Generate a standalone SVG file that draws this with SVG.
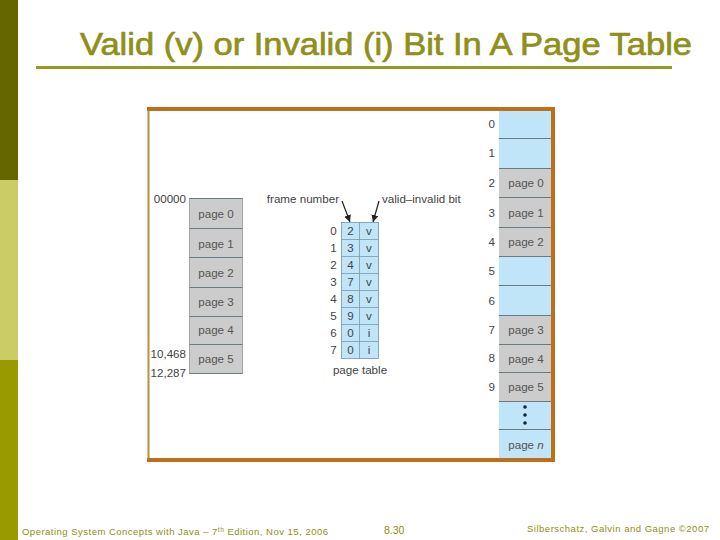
<svg xmlns="http://www.w3.org/2000/svg" width="720" height="540" viewBox="0 0 720 540">
<style>
text{font-family:"Liberation Sans",Arial,sans-serif}
.l{font-size:11.6px;fill:#555;text-anchor:middle}
.n{font-size:11.6px;fill:#444;text-anchor:end}
.c{font-size:11.6px;fill:#444;text-anchor:middle}
.f{font-size:9.5px;fill:#8f8f10}
.g{fill:#cccccc}
.b{fill:#c0e4f8}
.d{stroke:#6b7b84;stroke-width:1;fill:none}
.o{stroke:#7d98a8;stroke-width:.8;fill:none}
.a{stroke:#222;stroke-width:1.2;fill:none;marker-end:url(#h)}
</style>
<defs><marker id="h" markerWidth="9" markerHeight="8" refX="7" refY="3.500" orient="auto" markerUnits="userSpaceOnUse"><path d="M0,0L7,3.500L0,7Z" fill="#222"/></marker></defs>
<rect width="720" height="540" fill="#fff"/>
<g id="sidebar">
<rect x="0" y="0" width="18" height="180" fill="#666600"/>
<rect x="0" y="180" width="18" height="180" fill="#cccc66"/>
<rect x="0" y="360" width="18" height="180" fill="#999900"/>
</g>
<g id="title">
<text x="80" y="55" font-size="31" fill="#8f8f1a" stroke="#8f8f1a" stroke-width=".7" textLength="612" lengthAdjust="spacingAndGlyphs">Valid (v) or Invalid (i) Bit In A Page Table</text>
<rect x="36" y="66" width="636" height="3" fill="#999922"/>
</g>
<g id="frame">
<rect x="148.500" y="109" width="404" height="350.500" fill="#fff" stroke="#b8923a" stroke-width="2"/>
<rect x="147" y="107" width="408" height="4" fill="#bf6f1a"/>
<rect x="147" y="458" width="408" height="4" fill="#bf6f1a"/>
<rect x="551" y="107" width="4" height="355" fill="#bf6f1a"/>
</g>
<g id="logical-memory">
<rect class="g" x="189" y="198" width="54" height="176"/>
<path class="d" d="M189,198.500H243M189,228.500H243M189,257.500H243M189,287.500H243M189,316.500H243M189,344.500H243M189,373.500H243"/>
<path d="M189.500,198V374M242.500,198V374" stroke="#9a9a9a" stroke-width=".8" fill="none"/>
<text class="l" x="216" y="218">page 0</text>
<text class="l" x="216" y="248">page 1</text>
<text class="l" x="216" y="277">page 2</text>
<text class="l" x="216" y="306">page 3</text>
<text class="l" x="216" y="334">page 4</text>
<text class="l" x="216" y="363">page 5</text>
<text class="n" x="186" y="203">00000</text>
<text class="n" x="186" y="358">10,468</text>
<text class="n" x="186" y="377">12,287</text>
</g>
<g id="page-table">
<rect class="b" x="341" y="222" width="38" height="137"/>
<path class="o" d="M341.500,239.500H378.500M341.500,256.500H378.500M341.500,273.500H378.500M341.500,290.500H378.500M341.500,307.500H378.500M341.500,324.500H378.500M341.500,341.500H378.500M359.500,222V358.500"/>
<rect class="o" x="341.500" y="222.500" width="37" height="136"/>
<text class="c" x="333.500" y="235">0</text><text class="c" x="350.500" y="235">2</text><text class="c" x="369" y="235">v</text>
<text class="c" x="333.500" y="252">1</text><text class="c" x="350.500" y="252">3</text><text class="c" x="369" y="252">v</text>
<text class="c" x="333.500" y="269">2</text><text class="c" x="350.500" y="269">4</text><text class="c" x="369" y="269">v</text>
<text class="c" x="333.500" y="286">3</text><text class="c" x="350.500" y="286">7</text><text class="c" x="369" y="286">v</text>
<text class="c" x="333.500" y="303">4</text><text class="c" x="350.500" y="303">8</text><text class="c" x="369" y="303">v</text>
<text class="c" x="333.500" y="320">5</text><text class="c" x="350.500" y="320">9</text><text class="c" x="369" y="320">v</text>
<text class="c" x="333.500" y="337">6</text><text class="c" x="350.500" y="337">0</text><text class="c" x="369" y="337">i</text>
<text class="c" x="333.500" y="354">7</text><text class="c" x="350.500" y="354">0</text><text class="c" x="369" y="354">i</text>
<text class="c" x="360" y="374">page table</text>
<text class="n" x="339" y="203">frame number</text>
<text x="382" y="203" font-size="11.600" fill="#444">valid–invalid bit</text>
</g>
<g id="connectors">
<path class="a" d="M342,201L350,222"/>
<path class="a" d="M379,201L373,222"/>
</g>
<g id="physical-memory">
<rect class="b" x="499" y="111" width="52" height="57"/>
<rect class="g" x="499" y="168" width="52" height="88"/>
<rect class="b" x="499" y="256" width="52" height="59"/>
<rect class="g" x="499" y="315" width="52" height="86"/>
<rect class="b" x="499" y="401" width="52" height="57"/>
<path class="d" d="M499,138.500H551M499,168.500H551M499,197.500H551M499,227.500H551M499,256.500H551M499,285.500H551M499,315.500H551M499,344.500H551M499,372.500H551M499,401.500H551M499,429.500H551"/>
<text class="n" x="495" y="128">0</text>
<text class="n" x="495" y="157">1</text>
<text class="n" x="495" y="187">2</text>
<text class="n" x="495" y="217">3</text>
<text class="n" x="495" y="246">4</text>
<text class="n" x="495" y="275">5</text>
<text class="n" x="495" y="305">6</text>
<text class="n" x="495" y="334">7</text>
<text class="n" x="495" y="362">8</text>
<text class="n" x="495" y="391">9</text>
<text class="l" x="526" y="187">page 0</text>
<text class="l" x="526" y="217">page 1</text>
<text class="l" x="526" y="246">page 2</text>
<text class="l" x="526" y="334">page 3</text>
<text class="l" x="526" y="363">page 4</text>
<text class="l" x="526" y="391">page 5</text>
<text class="l" x="526" y="449">page <tspan font-style="italic">n</tspan></text>
<circle cx="525" cy="407" r="1.800" fill="#123"/>
<circle cx="525" cy="415" r="1.800" fill="#123"/>
<circle cx="525" cy="423" r="1.800" fill="#123"/>
</g>
<g id="footer">
<text class="f" x="22" y="535" textLength="306">Operating System Concepts with Java – 7<tspan font-size="6.500" dy="-3">th</tspan><tspan dy="3"> Edition, Nov 15, 2006</tspan></text>
<text class="f" x="384" y="534" style="font-size:10.500px">8.30</text>
<text class="f" x="527" y="532" textLength="182">Silberschatz, Galvin and Gagne ©2007</text>
</g>
</svg>
